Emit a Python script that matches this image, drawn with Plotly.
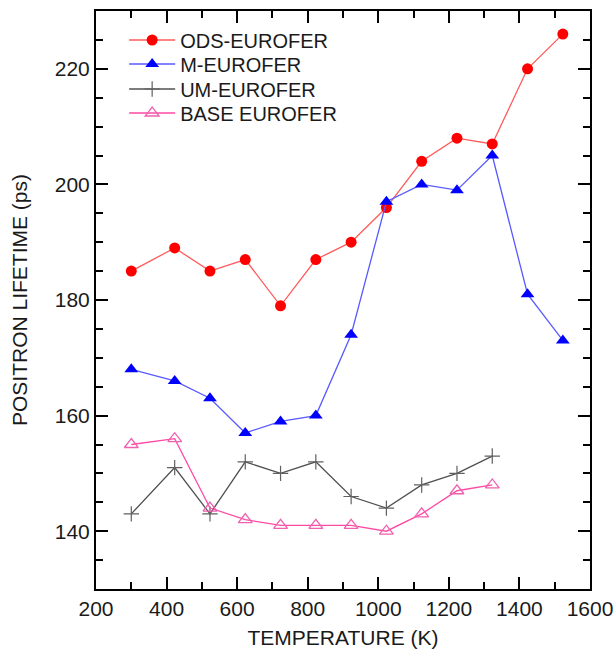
import plotly.graph_objects as go

temps_all = [300, 423, 523, 623, 723, 823, 923, 1023, 1123, 1223, 1323, 1423, 1523]
temps_short = temps_all[:11]

ods = [185, 189, 185, 187, 179, 187, 190, 196, 204, 208, 207, 220, 226]
m_eur = [168, 166, 163, 157, 159, 160, 174, 197, 200, 199, 205, 181, 173]
um_eur = [143, 151, 143, 152, 150, 152, 146, 144, 148, 150, 153]
base_eur = [155, 156, 144, 142, 141, 141, 141, 140, 143, 147, 148]

x_range = [200, 1600]
y_range = [130, 230]

W, H = 616, 652
ML, MR, MT, MB = 96, 26, 11, 63
plot_h = H - MT - MB

def leg_y(py):
    return 1 - (py - MT) / plot_h

fig = go.Figure()
fig.add_trace(go.Scatter(
    x=temps_all, y=ods, name="ODS-EUROFER", mode="lines+markers", legend="legend",
    line=dict(color="#ff5a5a", width=1.3),
    marker=dict(symbol="circle", size=11, color="#ff0000")))
fig.add_trace(go.Scatter(
    x=temps_all, y=m_eur, name="M-EUROFER", mode="lines+markers", legend="legend2",
    line=dict(color="#5a5aff", width=1.3),
    marker=dict(symbol="triangle-up", size=12, color="#0000ff")))
fig.add_trace(go.Scatter(
    x=temps_short, y=um_eur, name="UM-EUROFER", mode="lines+markers", legend="legend3",
    line=dict(color="#505050", width=1.3),
    marker=dict(symbol="cross-thin", size=11, color="#606060",
                line=dict(color="#606060", width=1.2))))
fig.add_trace(go.Scatter(
    x=temps_short, y=base_eur, name="BASE EUROFER", mode="lines+markers", legend="legend4",
    line=dict(color="#ff4aa5", width=1.3),
    marker=dict(symbol="triangle-up-open", size=12, color="#f060b0",
                line=dict(color="#f060b0", width=1.3))))

font_family = "Liberation Sans, Arial, sans-serif"
leg_common = dict(x=0.057, xanchor="left", yanchor="middle",
                  bgcolor="rgba(0,0,0,0)", font=dict(size=20, color="#1a1a1a"),
                  itemwidth=46)

tick_x = dict(ticks="inside", ticklen=12, tickwidth=2, tickcolor="black",
              minor=dict(dtick=100, ticks="inside", ticklen=7, tickwidth=2, tickcolor="black", showgrid=False))
tick_y = dict(ticks="inside", ticklen=12, tickwidth=2, tickcolor="black",
              minor=dict(dtick=5, ticks="inside", ticklen=7, tickwidth=2, tickcolor="black", showgrid=False))

fig.update_layout(
    width=W, height=H,
    margin=dict(l=ML, r=MR, t=MT, b=MB),
    plot_bgcolor="white",
    font=dict(family=font_family, size=21, color="#1a1a1a"),
    showlegend=True,
    legend=dict(y=leg_y(40), **leg_common),
    legend2=dict(y=leg_y(64), **leg_common),
    legend3=dict(y=leg_y(89), **leg_common),
    legend4=dict(y=leg_y(113), **leg_common),
    xaxis=dict(
        range=x_range, dtick=200, automargin=False, showgrid=False, zeroline=False,
        showline=True, linecolor="black", linewidth=2, mirror="ticks",
        title=dict(text="TEMPERATURE (K)", font=dict(size=21), standoff=11),
        tickfont=dict(size=21), **tick_x),
    yaxis=dict(
        range=y_range, dtick=20, automargin=False, showgrid=False, zeroline=False,
        showline=True, linecolor="black", linewidth=2, mirror="ticks",
        title=dict(text="POSITRON LIFETIME (ps)", font=dict(size=21), standoff=21),
        tickfont=dict(size=21), **tick_y),
    xaxis2=dict(
        range=x_range, dtick=200, overlaying="x", side="top", anchor="y",
        automargin=False, showgrid=False, zeroline=False, showticklabels=False,
        showline=True, linecolor="black", linewidth=2, mirror="ticks", **tick_x),
    yaxis2=dict(
        range=y_range, dtick=20, overlaying="y", side="right", anchor="x",
        automargin=False, showgrid=False, zeroline=False, showticklabels=False,
        showline=True, linecolor="black", linewidth=2, mirror="ticks", **tick_y),
)

fig.write_html("out.html", config={"displayModeBar": False},
               post_script="document.body.style.margin='0';document.body.style.overflow='hidden';")
